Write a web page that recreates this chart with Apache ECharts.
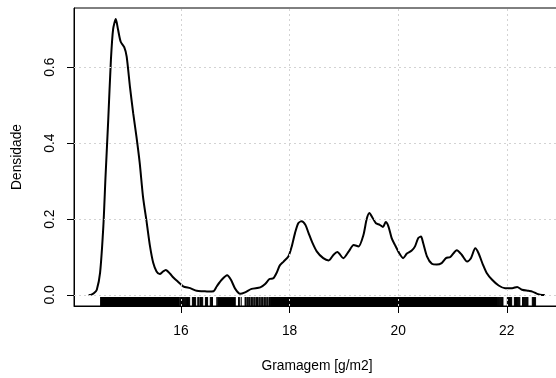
<!DOCTYPE html>
<html>
<head>
<meta charset="utf-8">
<script src="https://cdn.jsdelivr.net/npm/echarts@6/dist/echarts.min.js"></script>
<style>
  html, body { margin: 0; padding: 0; background: #fff; }
  #chart { width: 556px; height: 378px; }
</style>
</head>
<body>
<div id="chart"></div>
<script>
// Kernel density estimate of paper grammage (x in g/m2, density)
const densityX = [
  14.30, 14.35, 14.40, 14.45, 14.51, 14.57, 14.61, 14.66, 14.71, 14.75,
  14.80, 14.84, 14.89, 14.955, 15.00, 15.06, 15.12, 15.18, 15.24, 15.30,
  15.37, 15.43, 15.49, 15.55, 15.61, 15.67, 15.72, 15.80, 15.86, 15.92,
  16.04, 16.17, 16.29, 16.41, 16.50, 16.60, 16.66, 16.75, 16.85, 16.92,
  17.00, 17.09, 17.18, 17.30, 17.46, 17.55, 17.63, 17.70, 17.76, 17.82,
  17.89, 17.98, 18.04, 18.10, 18.16, 18.22, 18.29, 18.35, 18.41, 18.50,
  18.62, 18.72, 18.81, 18.88, 18.99, 19.09, 19.18, 19.27, 19.36, 19.42,
  19.47, 19.53, 19.59, 19.66, 19.72, 19.77, 19.82, 19.88, 19.94, 20.02,
  20.09, 20.16, 20.25, 20.31, 20.37, 20.42, 20.46, 20.53, 20.62, 20.71,
  20.80, 20.88, 20.96, 21.08, 21.17, 21.27, 21.34, 21.42, 21.48, 21.56,
  21.63, 21.73, 21.85, 21.97, 22.10, 22.19, 22.28, 22.40, 22.47, 22.56,
  22.65, 22.70
];
const densityY = [
  0.000, 0.001, 0.005, 0.014, 0.058, 0.180, 0.310, 0.460, 0.620, 0.700,
  0.727, 0.700, 0.667, 0.653, 0.628, 0.549, 0.479, 0.417, 0.348, 0.260,
  0.190, 0.128, 0.084, 0.062, 0.055, 0.062, 0.066, 0.056, 0.046, 0.038,
  0.023, 0.018, 0.011, 0.010, 0.009, 0.010, 0.023, 0.040, 0.052, 0.040,
  0.016, 0.003, 0.007, 0.016, 0.020, 0.029, 0.042, 0.044, 0.058, 0.078,
  0.088, 0.102, 0.128, 0.163, 0.189, 0.194, 0.185, 0.163, 0.141, 0.115,
  0.097, 0.091, 0.106, 0.113, 0.097, 0.115, 0.132, 0.128, 0.158, 0.200,
  0.216, 0.203, 0.189, 0.185, 0.179, 0.192, 0.181, 0.150, 0.132, 0.110,
  0.097, 0.109, 0.117, 0.128, 0.150, 0.154, 0.137, 0.102, 0.082, 0.080,
  0.084, 0.097, 0.100, 0.118, 0.106, 0.088, 0.097, 0.123, 0.110, 0.080,
  0.058, 0.040, 0.025, 0.018, 0.018, 0.021, 0.014, 0.011, 0.009, 0.003,
  0.000, 0.000
];

// Rug of observations: stretches where ticks merge into a solid band,
// plus the individual ticks in the sparser stretches
const rugDense = [[14.51, 15.98], [16.68, 17.01], [17.64, 21.82]];
const rugTicks = [
  15.99, 16.00, 16.01, 16.02, 16.03, 16.04, 16.05, 16.06, 16.07, 16.08,
  16.09, 16.10, 16.11, 16.12, 16.13, 16.14, 16.15, 16.16,
  16.21, 16.22, 16.23, 16.24, 16.25, 16.26, 16.27,
  16.31, 16.32, 16.33, 16.35, 16.36, 16.37, 16.38, 16.39, 16.40,
  16.45, 16.46, 16.47, 16.48, 16.49,
  16.54, 16.55, 16.56, 16.57, 16.58, 16.66, 16.67,
  17.06, 17.08, 17.11,
  17.18, 17.19, 17.20, 17.22, 17.23, 17.24, 17.26, 17.27, 17.29, 17.30,
  17.32, 17.33, 17.35, 17.36, 17.38, 17.39, 17.41, 17.42, 17.44, 17.45,
  17.47, 17.48, 17.50, 17.51, 17.53, 17.54, 17.56, 17.57, 17.59, 17.60,
  17.62, 17.63,
  21.83, 21.84, 21.85, 21.86, 21.87, 21.88, 21.89, 21.90, 21.91, 21.92,
  21.93, 22.01, 22.02, 22.03, 22.04, 22.05, 22.06, 22.07, 22.08, 22.09,
  22.14, 22.15, 22.16, 22.17, 22.18, 22.19, 22.20, 22.21, 22.22, 22.23,
  22.24, 22.29, 22.30, 22.31, 22.32, 22.33, 22.34, 22.35, 22.36, 22.37,
  22.38, 22.39, 22.47, 22.48, 22.49, 22.50, 22.51, 22.53
];

const xTicks = [16, 18, 20, 22];
const yTicks = [0, 0.2, 0.4, 0.6];

const xMin = 14.03, xMax = 22.98;
const yMin = -0.029, yMax = 0.756;
const rugTop = yMin + 0.03 * (yMax - yMin);

const FONT = '"Liberation Sans", Arial, Helvetica, sans-serif';
const FS = 13.8;

const gridLines = xTicks.map(v => ({ xAxis: v })).concat(yTicks.map(v => ({ yAxis: v })));

const chart = echarts.init(document.getElementById('chart'), null, { renderer: 'canvas' });
chart.setOption({
  animation: false,
  backgroundColor: '#ffffff',
  grid: {
    left: 74, top: 8, width: 486, height: 298,
    containLabel: false,
    outerBoundsMode: 'none',
    show: true, borderColor: '#000', borderWidth: 1, backgroundColor: 'transparent'
  },
  xAxis: {
    type: 'value', min: xMin, max: xMax,
    name: 'Gramagem [g/m2]', nameLocation: 'middle', nameGap: 53,
    nameTextStyle: { fontFamily: FONT, fontSize: FS, color: '#000' },
    axisLine: { show: true, onZero: false, lineStyle: { color: '#000', width: 1 } },
    axisTick: { show: true, length: 7, inside: false, customValues: xTicks, lineStyle: { color: '#000', width: 1 } },
    axisLabel: { show: true, customValues: xTicks, margin: 18, fontFamily: FONT, fontSize: FS, color: '#000',
                 formatter: v => String(Math.round(v)) },
    splitLine: { show: false }
  },
  yAxis: {
    type: 'value', min: yMin, max: yMax,
    name: 'Densidade', nameLocation: 'middle', nameGap: 50,
    nameTextStyle: { fontFamily: FONT, fontSize: FS, color: '#000' },
    axisLine: { show: true, onZero: false, lineStyle: { color: '#000', width: 1 } },
    axisTick: { show: true, length: 7, inside: false, customValues: yTicks, lineStyle: { color: '#000', width: 1 } },
    axisLabel: { show: true, customValues: yTicks, rotate: 90, margin: 17, fontFamily: FONT, fontSize: FS, color: '#000',
                 formatter: v => v.toFixed(1) },
    splitLine: { show: false }
  },
  series: [
    {
      // dotted reference grid
      type: 'line', data: [], z: 1, silent: true,
      markLine: {
        silent: true, symbol: ['none', 'none'], label: { show: false },
        lineStyle: { type: [2, 3], color: '#d3d3d3', width: 1 },
        emphasis: { disabled: true },
        data: gridLines
      }
    },
    {
      // rug bands
      type: 'custom', z: 2, silent: true, clip: false,
      encode: { x: [0, 1], y: 2 },
      data: rugDense.map(r => [r[0], r[1], 0]),
      renderItem: (params, api) => {
        const p0 = api.coord([api.value(0), yMin]);
        const p1 = api.coord([api.value(1), rugTop]);
        return { type: 'rect', shape: { x: p0[0], y: p1[1], width: p1[0] - p0[0], height: p0[1] - p1[1] },
                 style: { fill: '#000' } };
      }
    },
    {
      // rug ticks
      type: 'custom', z: 2, silent: true, clip: false,
      encode: { x: 0, y: 1 },
      data: rugTicks.map(v => [v, 0]),
      renderItem: (params, api) => {
        const p0 = api.coord([api.value(0), yMin]);
        const p1 = api.coord([api.value(0), rugTop]);
        return { type: 'line', shape: { x1: p0[0], y1: p0[1], x2: p1[0], y2: p1[1] },
                 style: { stroke: '#000', lineWidth: 1 } };
      }
    },
    {
      type: 'line', z: 3, silent: true,
      data: densityX.map((x, i) => [x, densityY[i]]),
      showSymbol: false, symbol: 'none',
      smooth: 0.25,
      lineStyle: { color: '#000', width: 2 }
    }
  ]
});
</script>
</body>
</html>
